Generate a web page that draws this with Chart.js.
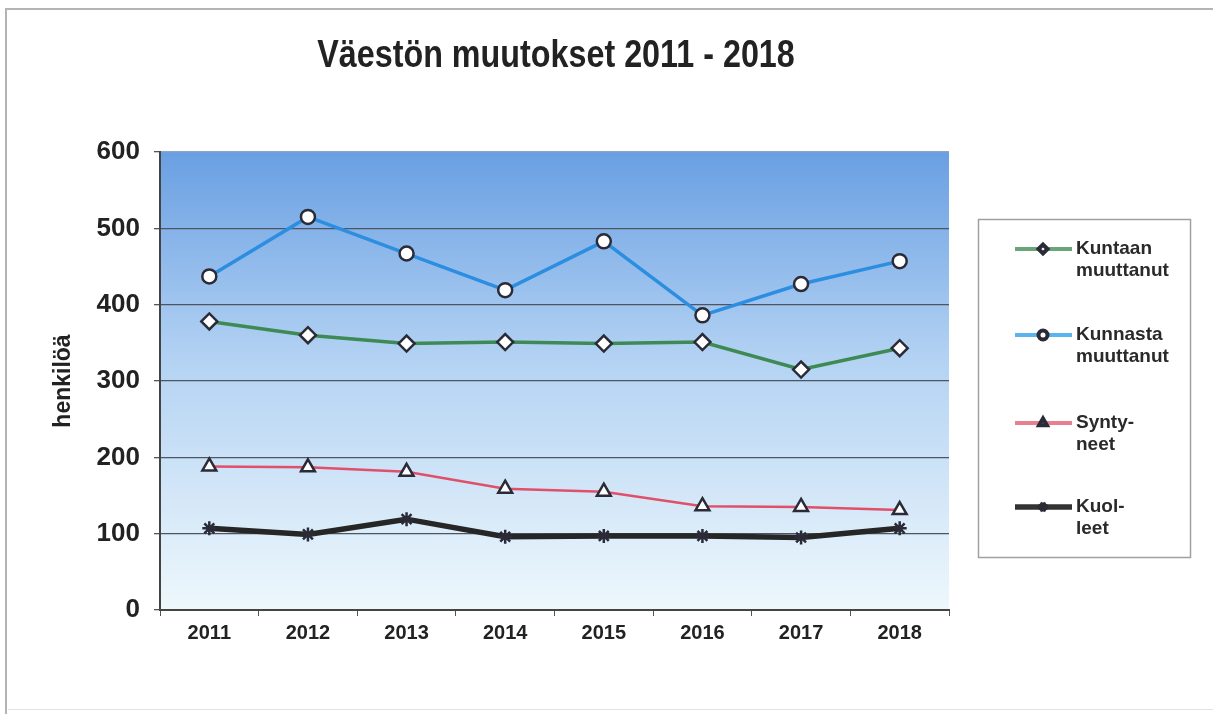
<!DOCTYPE html>
<html>
<head>
<meta charset="utf-8">
<title>Väestön muutokset 2011 - 2018</title>
<script src="https://cdn.jsdelivr.net/npm/chart.js@4"></script>
<style>
  html, body { margin: 0; padding: 0; background: #fff; }
  #wrap { width: 1213px; height: 714px; position: relative; }
</style>
</head>
<body>
<div id="wrap"><canvas id="chart" width="1213" height="714"></canvas></div>
<script>
"use strict";

// values
var years = ['2011', '2012', '2013', '2014', '2015', '2016', '2017', '2018'];
var kuntaan = [378, 360, 349, 351, 349, 351, 315, 343];
var kunnasta = [437, 515, 467, 419, 483, 386, 427, 457];
var syntyneet = [188, 187, 181, 159, 155, 136, 135, 131];
var kuolleet = [107, 99, 119, 96, 97, 97, 95, 107];

var legendLines = [['Kuntaan', 'muuttanut'], ['Kunnasta', 'muuttanut'], ['Synty-', 'neet'], ['Kuol-', 'leet']];
var yTicks = [0, 100, 200, 300, 400, 500, 600];
var chartTitle = 'Väestön muutokset 2011 - 2018';

var FONT = '"Liberation Sans", Arial, sans-serif';
var markerEdge = '#2b2b38';

// white page, thin scanned frame, plot gradient
var framePlugin = {
    id: 'frame',
    beforeDraw: function(chart){
        var ctx = chart.ctx;
        ctx.save();
        ctx.fillStyle = '#fff';
        ctx.fillRect(0, 0, chart.width, chart.height);
        ctx.strokeStyle = '#b4b4b4';
        ctx.lineWidth = 2;
        ctx.beginPath();
        ctx.moveTo(6, 714);
        ctx.lineTo(6, 9);
        ctx.lineTo(1213, 9);
        ctx.stroke();
        ctx.strokeStyle = '#e2e2e2';
        ctx.lineWidth = 1;
        ctx.beginPath();
        ctx.moveTo(8, 709.5);
        ctx.lineTo(1213, 709.5);
        ctx.stroke();

        var a = chart.chartArea;
        var g = ctx.createLinearGradient(0, a.top, 0, a.bottom);
        g.addColorStop(0, '#699fe2');
        g.addColorStop(0.45, '#b3d2f3');
        g.addColorStop(1, '#eef8fc');
        ctx.fillStyle = g;
        ctx.fillRect(a.left, a.top, a.right - a.left, a.bottom - a.top);
        ctx.restore();
    },
    afterDraw: function(chart){
        // the title in the scan is a squeezed bold face, so narrow it by hand
        var ctx = chart.ctx;
        ctx.save();
        ctx.translate(556, 57);
        ctx.scale(0.85, 1);
        ctx.font = 'bold 38px ' + FONT;
        ctx.fillStyle = '#222';
        ctx.textAlign = 'center';
        ctx.textBaseline = 'middle';
        ctx.fillText(chartTitle, 0, 0);
        ctx.restore();
    }
};

// excel style legend box on the right
var boxLegend = {
    id: 'boxLegend',
    afterDraw: function(chart){
        var ctx = chart.ctx;
        var rows = [249, 335, 423, 507];
        ctx.save();
        ctx.strokeStyle = '#a0a0a0';
        ctx.lineWidth = 1.5;
        ctx.strokeRect(978.5, 219.5, 212, 338);

        chart.data.datasets.forEach(function(ds, i){
            var y = rows[i];
            ctx.strokeStyle = ds.legendColor;
            ctx.lineWidth = Math.max(ds.borderWidth, 4);
            ctx.beginPath();
            ctx.moveTo(1015, y);
            ctx.lineTo(1072, y);
            ctx.stroke();

            ctx.fillStyle = '#fff';
            ctx.strokeStyle = markerEdge;
            Chart.helpers.drawPoint(ctx, {
                pointStyle: ds.pointStyle,
                radius: 4.5,
                rotation: 0,
                borderWidth: 2.5
            }, 1043, y);

            ctx.fillStyle = '#2a2a2a';
            ctx.font = 'bold 19px ' + FONT;
            ctx.textBaseline = 'middle';
            ctx.textAlign = 'left';
            legendLines[i].forEach(function(t, k){
                ctx.fillText(t, 1076, y + k * 22);
            });
        });
        ctx.restore();
    }
};

function makeSet(i, data, color, legendColor, style, radius, width){
    return {
        label: legendLines[i].join(' '),
        data: data,
        borderColor: color,
        legendColor: legendColor,
        borderWidth: width,
        pointStyle: style,
        pointRadius: radius,
        pointBackgroundColor: '#ffffff',
        pointBorderColor: markerEdge,
        pointBorderWidth: 2.5,
        tension: 0
    };
}

var ctx = document.getElementById('chart').getContext('2d');
var chart = new Chart(ctx, {
    type: 'line',
    data: {
        labels: years,
        datasets: [
            makeSet(0, kuntaan, '#3e8a55', '#6aa57a', 'rectRot', 8, 3.5),
            makeSet(1, kunnasta, '#2c8ee0', '#5ab4ee', 'circle', 7, 3.5),
            makeSet(2, syntyneet, '#e0506a', '#e8808f', 'triangle', 8, 2.5),
            makeSet(3, kuolleet, '#262626', '#333333', 'star', 7, 5.5)
        ]
    },
    options: {
        responsive: false,
        animation: false,
        layout: { padding: { left: 40, right: 264, top: 152, bottom: 64 } },
        plugins: {
            legend: { display: false },
            tooltip: { enabled: false },
            title: { display: false }
        },
        scales: {
            x: {
                offset: true,
                afterFit: function(s){ s.height = 40; },
                grid: {
                    offset: true,
                    drawOnChartArea: false,
                    drawTicks: true,
                    tickLength: 6,
                    tickColor: '#555'
                },
                border: { display: true, color: '#444', width: 2 },
                ticks: {
                    color: '#222',
                    padding: 5,
                    font: { family: FONT, size: 20, weight: 'bold' }
                }
            },
            y: {
                min: 0,
                max: 600,
                afterFit: function(s){ s.width = 120; },
                afterBuildTicks: function(s){
                    s.ticks = yTicks.map(function(v){ return { value: v }; });
                },
                grid: {
                    color: function(c){ return c.tick && c.tick.value === 600 ? '#8da6c8' : '#4d5560'; },
                    lineWidth: 1.3,
                    tickLength: 6,
                    tickColor: '#555'
                },
                border: { display: true, color: '#444', width: 2 },
                ticks: {
                    color: '#222',
                    padding: 14,
                    font: { family: FONT, size: 26, weight: 'bold' }
                },
                title: {
                    display: true,
                    text: 'henkilöä',
                    color: '#222',
                    padding: { top: 10, bottom: 0 },
                    font: { family: FONT, size: 23, weight: 'bold' }
                }
            }
        }
    },
    plugins: [framePlugin, boxLegend]
});
</script>
</body>
</html>
